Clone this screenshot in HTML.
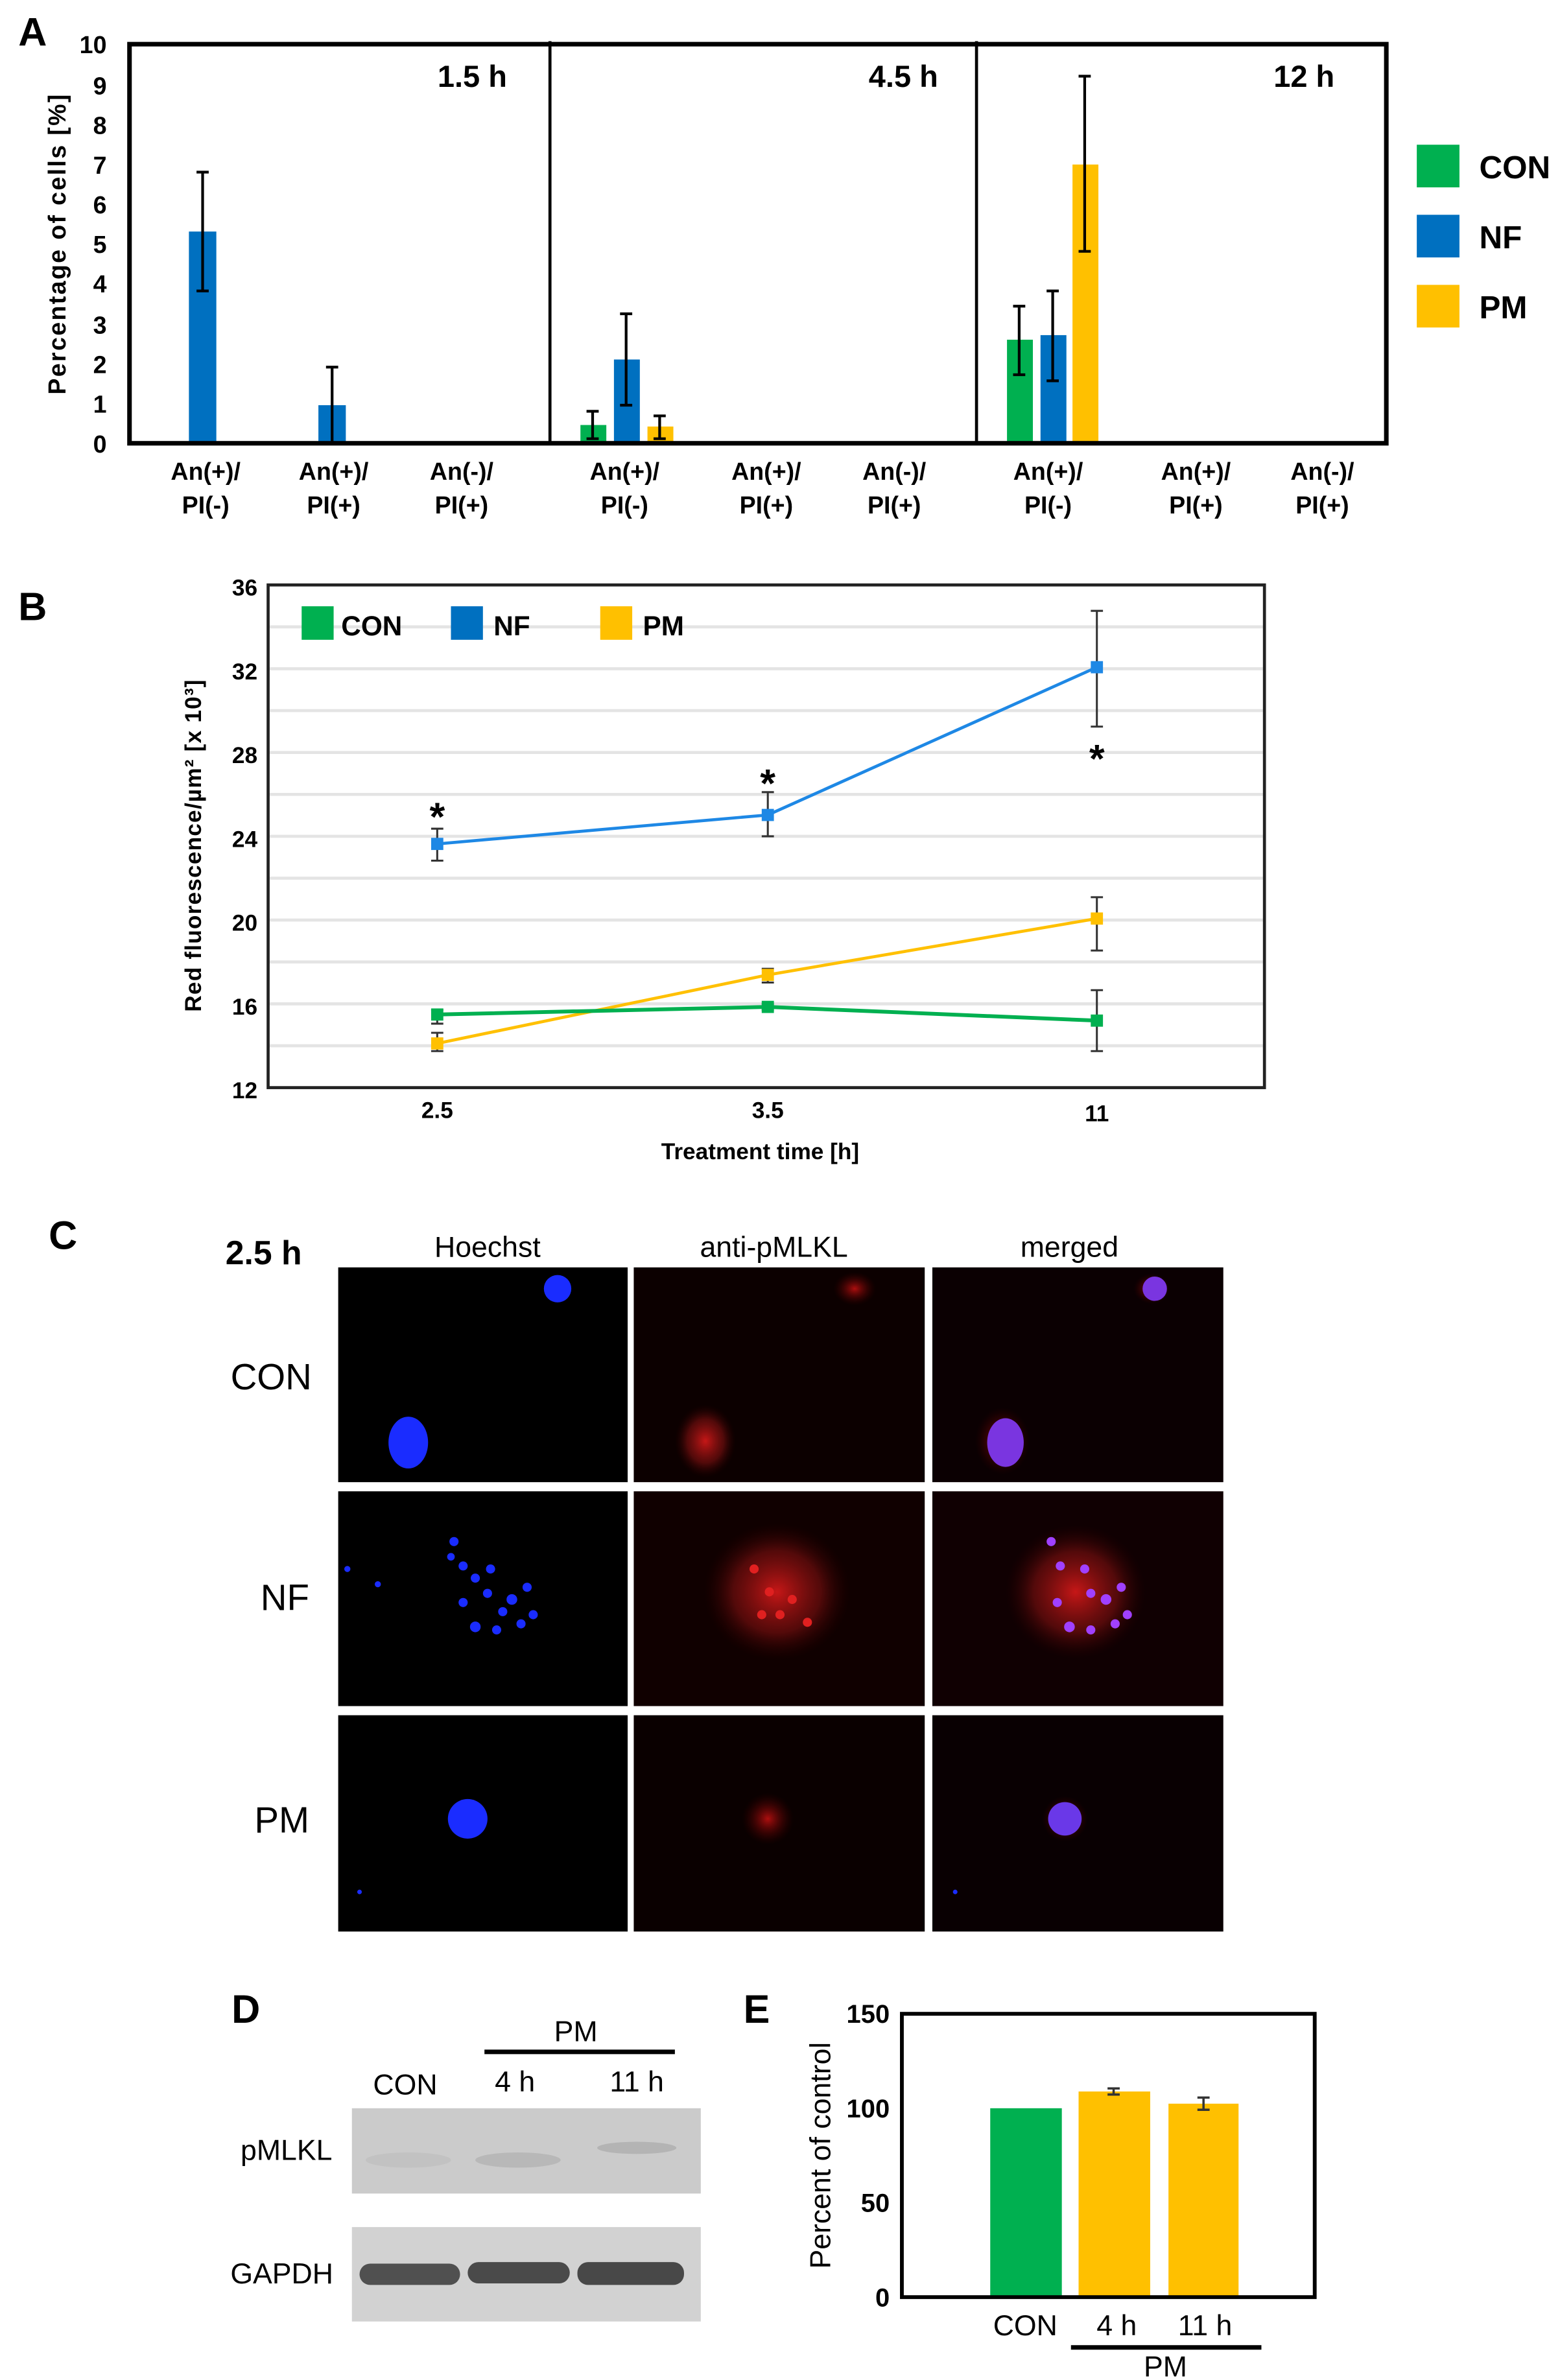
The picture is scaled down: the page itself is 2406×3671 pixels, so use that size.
<!DOCTYPE html>
<html><head><meta charset="utf-8"><style>
html,body{margin:0;padding:0;background:#fff;}
svg{display:block;}
text{font-family:"Liberation Sans",sans-serif;}
.b{font-weight:bold;}
</style></head><body>
<svg width="2406" height="3671" viewBox="0 0 1024 1562.4" xmlns="http://www.w3.org/2000/svg">
<defs>
<radialGradient id="rg" cx="50%" cy="50%" r="50%"><stop offset="0" stop-color="#c01010" stop-opacity="0.9"/><stop offset="1" stop-color="#400000" stop-opacity="0"/></radialGradient>
<radialGradient id="rg2" cx="50%" cy="50%" r="50%"><stop offset="0" stop-color="#d01818" stop-opacity="0.95"/><stop offset="0.6" stop-color="#801010" stop-opacity="0.6"/><stop offset="1" stop-color="#300000" stop-opacity="0"/></radialGradient>
</defs>
<!-- Panel A -->
<text x="12" y="30" font-size="26" class="b">A</text>
<g font-size="16" class="b" text-anchor="end">
<text x="70" y="297">0</text><text x="70" y="271">1</text><text x="70" y="245">2</text><text x="70" y="219">3</text><text x="70" y="192">4</text><text x="70" y="166">5</text><text x="70" y="140">6</text><text x="70" y="114">7</text><text x="70" y="88">8</text><text x="70" y="62">9</text><text x="70" y="35">10</text>
</g>
<text transform="translate(43,160) rotate(-90)" font-size="16" class="b" text-anchor="middle" letter-spacing="1">Percentage of cells [%]</text>
<g fill="#0070c0">
<rect x="124" y="152" width="18" height="139"/><rect x="209" y="266" width="18" height="25"/>
<rect x="403" y="236" width="17" height="55"/><rect x="683" y="220" width="17" height="71"/>
</g>
<g fill="#00b050"><rect x="381" y="279" width="17" height="12"/><rect x="661" y="223" width="17" height="68"/></g>
<g fill="#ffc000"><rect x="425" y="280" width="17" height="11"/><rect x="704" y="108" width="17" height="183"/></g>
<g stroke="#000" stroke-width="1.8">
<path d="M133 191V113M129 113h8M129 191h8"/>
<path d="M218 291V241M214 241h8"/>
<path d="M389 288V270M385 270h8M385 288h8"/>
<path d="M411 266V206M407 206h8M407 266h8"/>
<path d="M433 288V273M429 273h8M429 288h8"/>
<path d="M669 246V201M665 201h8M665 246h8"/>
<path d="M691 250V191M687 191h8M687 250h8"/>
<path d="M712 165V50M708 50h8M708 165h8"/>
</g>
<rect x="85" y="29" width="825" height="262" fill="none" stroke="#000" stroke-width="3"/>
<path d="M361 27V291M641 27V291" stroke="#000" stroke-width="2"/>
<g font-size="20" class="b" text-anchor="middle"><text x="310" y="57">1.5 h</text><text x="593" y="57">4.5 h</text><text x="856" y="57">12 h</text></g>
<g font-size="16" class="b" text-anchor="middle">
<text x="135" y="315">An(+)/</text><text x="135" y="337">PI(-)</text>
<text x="219" y="315">An(+)/</text><text x="219" y="337">PI(+)</text>
<text x="303" y="315">An(-)/</text><text x="303" y="337">PI(+)</text>
<text x="410" y="315">An(+)/</text><text x="410" y="337">PI(-)</text>
<text x="503" y="315">An(+)/</text><text x="503" y="337">PI(+)</text>
<text x="587" y="315">An(-)/</text><text x="587" y="337">PI(+)</text>
<text x="688" y="315">An(+)/</text><text x="688" y="337">PI(-)</text>
<text x="785" y="315">An(+)/</text><text x="785" y="337">PI(+)</text>
<text x="868" y="315">An(-)/</text><text x="868" y="337">PI(+)</text>
</g>
<rect x="930" y="95" width="28" height="28" fill="#00b050"/><rect x="930" y="141" width="28" height="28" fill="#0070c0"/><rect x="930" y="187" width="28" height="28" fill="#ffc000"/>
<g font-size="21" class="b"><text x="971" y="117">CON</text><text x="971" y="163">NF</text><text x="971" y="209">PM</text></g>

<!-- Panel B -->
<text x="12" y="407" font-size="26" class="b">B</text>
<g stroke="#e4e4e4" stroke-width="2">
<path d="M177 411.5H829M177 439H829M177 466.5H829M177 494H829M177 521.5H829M177 549H829M177 576.5H829M177 604H829M177 631.5H829M177 659H829M177 686.5H829"/>
</g>
<rect x="176" y="384" width="654" height="330" fill="none" stroke="#222" stroke-width="2"/>
<g font-size="15" class="b" text-anchor="end">
<text x="169" y="391">36</text><text x="169" y="446">32</text><text x="169" y="501">28</text><text x="169" y="556">24</text><text x="169" y="611">20</text><text x="169" y="666">16</text><text x="169" y="721">12</text>
</g>
<g font-size="15" class="b" text-anchor="middle"><text x="287" y="734">2.5</text><text x="504" y="734">3.5</text><text x="720" y="736">11</text><text x="499" y="761">Treatment time [h]</text></g>
<text transform="translate(132,555) rotate(-90)" font-size="15" class="b" text-anchor="middle" letter-spacing="0.5">Red fluorescence/µm² [x 10³]</text>
<g stroke="#333" stroke-width="1.3" fill="none">
<path d="M287 544V565M283 544h8M283 565h8"/><path d="M504 520V549M500 520h8M500 549h8"/><path d="M720 401V477M716 401h8M716 477h8"/>
<path d="M287 678V690M283 678h8M283 690h8"/><path d="M504 636V645M500 636h8M500 645h8"/><path d="M720 589V624M716 589h8M716 624h8"/>
<path d="M287 663V672M283 663h8M283 672h8"/><path d="M504 659V663M500 659h8M500 663h8"/><path d="M720 650V690M716 650h8M716 690h8"/>
</g>
<polyline points="287,554 504,535 720,438" fill="none" stroke="#1e88e5" stroke-width="2"/>
<polyline points="287,685 504,640 720,603" fill="none" stroke="#ffc000" stroke-width="2"/>
<polyline points="287,666 504,661 720,670" fill="none" stroke="#00b050" stroke-width="2.5"/>
<g fill="#1e88e5"><rect x="283" y="550" width="8" height="8"/><rect x="500" y="531" width="8" height="8"/><rect x="716" y="434" width="8" height="8"/></g>
<g fill="#ffc000"><rect x="283" y="681" width="8" height="8"/><rect x="500" y="636" width="8" height="8"/><rect x="716" y="599" width="8" height="8"/></g>
<g fill="#00b050"><rect x="283" y="662" width="8" height="8"/><rect x="500" y="657" width="8" height="8"/><rect x="716" y="666" width="8" height="8"/></g>
<g font-size="26" class="b" text-anchor="middle"><text x="287" y="545">*</text><text x="504" y="523">*</text><text x="720" y="507">*</text></g>
<rect x="198" y="398" width="21" height="22" fill="#00b050"/><rect x="296" y="398" width="21" height="22" fill="#0070c0"/><rect x="394" y="398" width="21" height="22" fill="#ffc000"/>
<g font-size="18" class="b"><text x="224" y="417">CON</text><text x="324" y="417">NF</text><text x="422" y="417">PM</text></g>

<!-- Panel C -->
<text x="32" y="820" font-size="26" class="b">C</text>
<text x="148" y="830" font-size="22" class="b">2.5 h</text>
<g font-size="19" text-anchor="middle"><text x="320" y="825">Hoechst</text><text x="508" y="825">anti-pMLKL</text><text x="702" y="825">merged</text></g>
<g font-size="24" text-anchor="middle"><text x="178" y="912">CON</text><text x="187" y="1057">NF</text><text x="185" y="1203">PM</text></g>
<g>
<rect x="222" y="832" width="190" height="141" fill="#000"/>
<rect x="416" y="832" width="191" height="141" fill="#0c0000"/>
<rect x="612" y="832" width="191" height="141" fill="#0b0002"/>
<rect x="222" y="979" width="190" height="141" fill="#000"/>
<rect x="416" y="979" width="191" height="141" fill="#100000"/>
<rect x="612" y="979" width="191" height="141" fill="#100002"/>
<rect x="222" y="1126" width="190" height="142" fill="#000"/>
<rect x="416" y="1126" width="191" height="142" fill="#0a0000"/>
<rect x="612" y="1126" width="191" height="142" fill="#090002"/>
</g>
<g fill="#1a2cff"><ellipse cx="366" cy="846" rx="9" ry="9"/><ellipse cx="268" cy="947" rx="13" ry="17"/></g>
<ellipse cx="561" cy="846" rx="14" ry="11" fill="url(#rg)"/><ellipse cx="463" cy="946" rx="20" ry="24" fill="url(#rg2)"/>
<ellipse cx="756" cy="846" rx="12" ry="10" fill="url(#rg)"/><ellipse cx="658" cy="946" rx="18" ry="22" fill="url(#rg)"/>
<g fill="#7a35e0"><ellipse cx="758" cy="846" rx="8" ry="8"/><ellipse cx="660" cy="947" rx="12" ry="16"/></g>
<g fill="#1a2cff">
<circle cx="298" cy="1012" r="3"/><circle cx="304" cy="1028" r="3"/><circle cx="312" cy="1036" r="3"/><circle cx="322" cy="1030" r="3"/><circle cx="336" cy="1050" r="3.5"/><circle cx="330" cy="1058" r="3"/><circle cx="320" cy="1046" r="3"/><circle cx="346" cy="1042" r="3"/><circle cx="350" cy="1060" r="3"/><circle cx="312" cy="1068" r="3.5"/><circle cx="326" cy="1070" r="3"/><circle cx="304" cy="1052" r="3"/><circle cx="342" cy="1066" r="3"/><circle cx="296" cy="1022" r="2.5"/><circle cx="248" cy="1040" r="2"/><circle cx="228" cy="1030" r="2"/>
</g>
<ellipse cx="510" cy="1045" rx="48" ry="45" fill="url(#rg2)"/>
<g fill="#e02020"><circle cx="495" cy="1030" r="3"/><circle cx="505" cy="1045" r="3"/><circle cx="520" cy="1050" r="3"/><circle cx="512" cy="1060" r="3"/><circle cx="530" cy="1065" r="3"/><circle cx="500" cy="1060" r="3"/></g>
<ellipse cx="706" cy="1045" rx="46" ry="44" fill="url(#rg2)"/>
<g fill="#a040ff"><circle cx="690" cy="1012" r="3"/><circle cx="696" cy="1028" r="3"/><circle cx="712" cy="1030" r="3"/><circle cx="726" cy="1050" r="3.5"/><circle cx="716" cy="1046" r="3"/><circle cx="736" cy="1042" r="3"/><circle cx="740" cy="1060" r="3"/><circle cx="702" cy="1068" r="3.5"/><circle cx="716" cy="1070" r="3"/><circle cx="694" cy="1052" r="3"/><circle cx="732" cy="1066" r="3"/></g>
<ellipse cx="307" cy="1194" rx="13" ry="13" fill="#1a2cff"/>
<ellipse cx="504" cy="1194" rx="17" ry="17" fill="url(#rg)"/>
<ellipse cx="699" cy="1194" rx="15" ry="15" fill="url(#rg)"/><ellipse cx="699" cy="1194" rx="11" ry="11" fill="#6a38e8"/>
<circle cx="236" cy="1242" r="1.5" fill="#1a2cff"/><circle cx="627" cy="1242" r="1.5" fill="#1a2cff"/>

<!-- Panel D -->
<text x="152" y="1328" font-size="26" class="b">D</text>
<text x="378" y="1340" font-size="19" text-anchor="middle">PM</text>
<path d="M318 1347H443" stroke="#000" stroke-width="3"/>
<g font-size="19" text-anchor="middle"><text x="266" y="1375">CON</text><text x="338" y="1373">4 h</text><text x="418" y="1373">11 h</text></g>
<text x="188" y="1418" font-size="19" text-anchor="middle">pMLKL</text>
<text x="185" y="1499" font-size="19" text-anchor="middle">GAPDH</text>
<rect x="231" y="1384" width="229" height="56" fill="#cbcbcb"/>
<ellipse cx="340" cy="1418" rx="28" ry="5" fill="#b8b8b8"/><ellipse cx="418" cy="1410" rx="26" ry="4" fill="#b4b4b4"/><ellipse cx="268" cy="1418" rx="28" ry="5" fill="#c2c2c2"/>
<rect x="231" y="1462" width="229" height="62" fill="#d2d2d2"/>
<rect x="236" y="1486" width="66" height="14" rx="7" fill="#505050"/>
<rect x="307" y="1485" width="67" height="14" rx="7" fill="#4a4a4a"/>
<rect x="379" y="1485" width="70" height="15" rx="7" fill="#484848"/>

<!-- Panel E -->
<text x="488" y="1328" font-size="26" class="b">E</text>
<rect x="650" y="1384" width="47" height="124" fill="#00b050"/>
<rect x="708" y="1373" width="47" height="135" fill="#ffc000"/>
<rect x="767" y="1381" width="46" height="127" fill="#ffc000"/>
<g stroke="#333" stroke-width="1.5"><path d="M731 1371V1375M727 1371h8M727 1375h8"/><path d="M790 1377V1385M786 1377h8M786 1385h8"/></g>
<rect x="592" y="1322" width="271" height="186" fill="none" stroke="#000" stroke-width="2.5"/>
<g font-size="17" class="b" text-anchor="end"><text x="584" y="1328">150</text><text x="584" y="1390">100</text><text x="584" y="1452">50</text><text x="584" y="1514">0</text></g>
<text transform="translate(545,1415) rotate(-90)" font-size="19" text-anchor="middle">Percent of control</text>
<g font-size="19" text-anchor="middle"><text x="673" y="1533">CON</text><text x="733" y="1533">4 h</text><text x="791" y="1533">11 h</text><text x="765" y="1560">PM</text></g>
<path d="M703 1541H828" stroke="#000" stroke-width="3"/>
</svg>
</body></html>
